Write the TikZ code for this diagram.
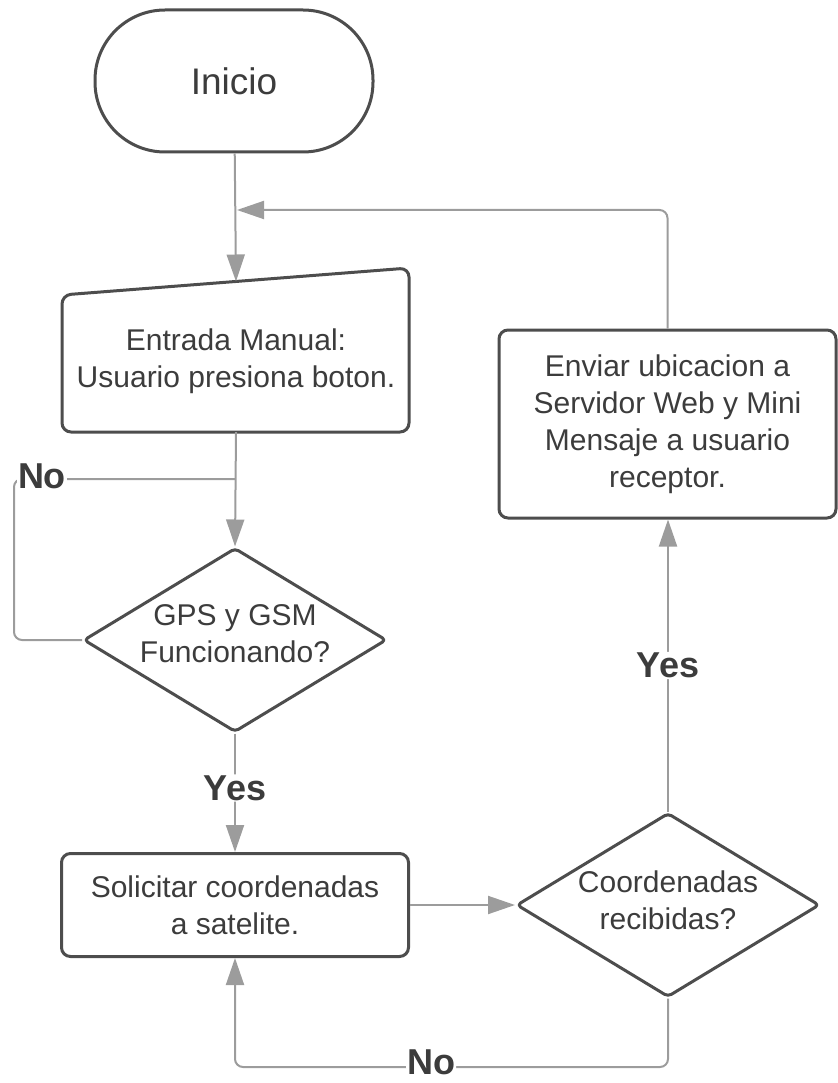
\documentclass[tikz,border=0pt]{standalone}
\usepackage{fontspec}
\setmainfont{Liberation Sans}
\usetikzlibrary{arrows.meta,shapes.geometric}
\definecolor{edgegray}{HTML}{4D4D4D}
\definecolor{linkgray}{HTML}{9C9C9C}
\definecolor{inkgray}{HTML}{3C3C3C}
\begin{document}
\begin{tikzpicture}[x=1pt,y=-1pt,
  shapeline/.style={draw=edgegray, line width=3pt, line join=round},
  body/.style={text=inkgray, font=\fontsize{30}{37}\selectfont, align=center, inner sep=0pt},
  process/.style={shapeline, body, rounded corners=9pt, minimum width=347pt},
  decision/.style={shapeline, diamond, minimum width=303pt, minimum height=184pt, inner sep=0pt, rounded corners=4pt},
  link/.style={draw=linkgray, line width=2pt, rounded corners=8pt},
  tip/.style={-{Triangle[length=27pt,width=18pt]}},
  answer/.style={fill=white, text=inkgray, font=\fontsize{36}{40}\selectfont\bfseries, inner sep=1pt},
]
\useasboundingbox (0,0) rectangle (837,1083);

% start terminal
\node[shapeline, body, rounded corners=70pt, minimum width=278pt, minimum height=142pt,
      font=\fontsize{37}{44}\selectfont] (start) at (234,81) {Inicio};

% manual input (slanted top edge)
\node[body, minimum width=347pt, minimum height=142pt] (manual) at (236,361)
  {Entrada Manual:\\Usuario presiona boton.};
\draw[shapeline, rounded corners=9pt]
  (236,432) -- (62,432) -- (62,295) -- (409,268) -- (409,432) -- cycle;
\coordinate (mtop) at (236,281.5);

% decision: GPS / GSM
\node[decision] (d1) at (235,640) {};
\node[body] (d1text) at (235,634) {GPS y GSM\\Funcionando?};

% request coordinates
\node[process, minimum height=103pt] (sol) at (235,905) {Solicitar coordenadas\\a satelite.};

% decision: coordinates received
\node[decision] (d2) at (668,905) {};
\node[body] (d2text) at (668,900) {Coordenadas\\recibidas?};

% send location
\node[process, minimum width=337pt, minimum height=188pt] (send) at (667.5,424)
  {Enviar ubicacion a\\Servidor Web y Mini\\Mensaje a usuario\\receptor.};

% helper points for the connectors
\coordinate (ret) at (237,210);
\coordinate (join1) at (235,479);
\coordinate (base) at (0,1067);

% connectors
\draw[link, tip] (start) -- (mtop);
\draw[link, tip] (manual.south) -- (d1.north);
\draw[link] (d1.west) -- ++(-68,0) |- (join1);
\node[answer] (no1) at (42,476) {No};
\draw[link, tip] (d1.south) -- node[answer, pos=0.46] (yes1) {Yes} (sol.north);
\draw[link, tip] (sol.east) -- (d2.west);
\draw[link, tip] (d2.north) -- node[answer, pos=0.5] (yes2) {Yes} (d2.north |- send.south);
\draw[link, tip] (d2.south) -- (d2.south |- base) -- node[answer, pos=0.547, yshift=5pt] (no2) {No}
  (sol.south |- base) -- (sol.south);
\draw[link, tip] (send.north) -- (send.north |- ret) -- (ret);
\end{tikzpicture}
\end{document}
